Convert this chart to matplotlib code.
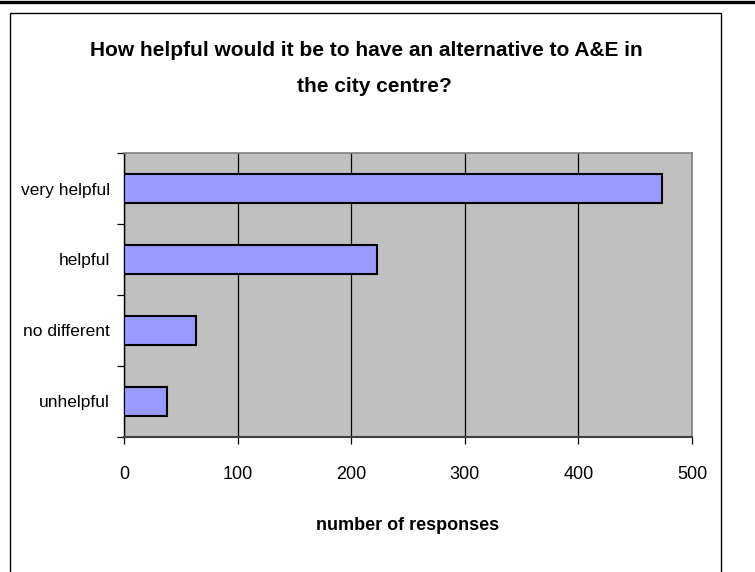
import matplotlib
matplotlib.use("Agg")
import matplotlib.pyplot as plt
from matplotlib.lines import Line2D
from matplotlib.patches import Rectangle
import numpy as np

categories = ["very helpful", "helpful", "no different", "unhelpful"]
responses = [474, 223, 63, 38]
x_ticks = [0, 100, 200, 300, 400, 500]
title_lines = ["How helpful would it be to have an alternative to A&E in",
               "the city centre?"]
x_label = "number of responses"

FONT = ["Liberation Sans Narrow", "Liberation Sans", "DejaVu Sans"]
plt.rcParams["font.family"] = FONT

W, H = 755, 572
fig = plt.figure(figsize=(W / 100, H / 100), dpi=100)
fig.patch.set_facecolor("white")

def fx(px):
    return px / W

def fy(py):
    return 1 - py / H

# page rule along the top and the chart's outer frame
fig.add_artist(Line2D([0, 1], [fy(1.5), fy(1.5)], color="black", lw=2.4,
                      transform=fig.transFigure))
fig.add_artist(Rectangle((fx(10), fy(600)), fx(721) - fx(10), fy(13) - fy(600),
                         transform=fig.transFigure, fill=False,
                         edgecolor="black", lw=1.0))

left, right, top, bottom = 124, 692, 153, 437
ax = fig.add_axes([fx(left), fy(bottom), fx(right) - fx(left), fy(top) - fy(bottom)])
ax.set_facecolor("#C0C0C0")

ypos = np.arange(len(categories))
ax.barh(ypos, responses, height=0.4, color="#9999FF", edgecolor="black",
        linewidth=1.5, zorder=3)

ax.set_xlim(0, 500)
ax.set_ylim(len(categories) - 0.5, -0.5)

ax.set_xticks(x_ticks)
ax.set_xticklabels([str(v) for v in x_ticks], fontsize=13)
ax.xaxis.grid(True, color="black", lw=0.9, zorder=1)
ax.tick_params(axis="x", direction="out", length=5, width=0.9, pad=16)

# category boundaries carry the ticks; the names sit between them
ax.set_yticks(np.arange(-0.5, len(categories), 1.0))
ax.set_yticklabels([])
ax.set_yticks(ypos, minor=True)
ax.set_yticklabels(categories, minor=True, fontsize=12.5)
ax.tick_params(axis="y", which="major", direction="out", length=5, width=0.9)
ax.tick_params(axis="y", which="minor", length=0, pad=10)

for side in ("top", "right"):
    ax.spines[side].set_color("#808080")
    ax.spines[side].set_linewidth(1.2)
ax.spines["left"].set_color("black")
ax.spines["bottom"].set_color("#404040")
ax.spines["left"].set_linewidth(1.0)
ax.spines["bottom"].set_linewidth(1.5)

ax.set_xlabel(x_label, fontsize=13, fontweight="bold", labelpad=24)

fig.text(fx(366), fy(51), title_lines[0], ha="center", va="center",
         fontsize=15, fontweight="bold")
fig.text(fx(374), fy(87), title_lines[1], ha="center", va="center",
         fontsize=15, fontweight="bold")

fig.savefig("out.png", dpi=100)
